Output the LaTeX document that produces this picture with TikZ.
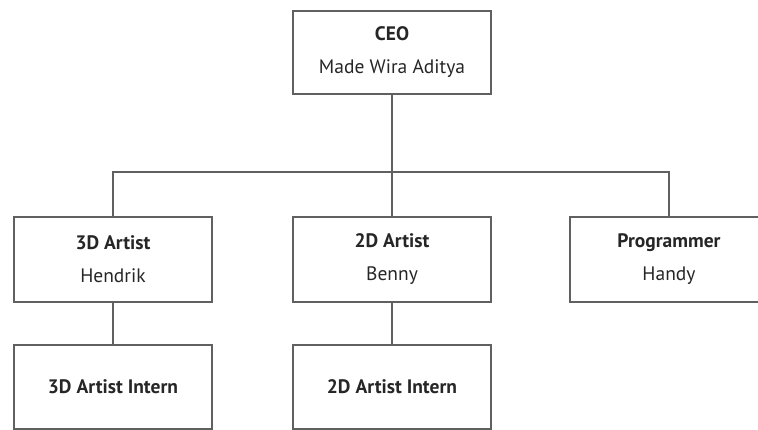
\documentclass[tikz,border=0pt]{standalone}
\usepackage{fontspec}
\setmainfont{PT Sans}
\begin{document}
\begin{tikzpicture}[x=1pt,y=-1pt,
  box/.style={draw=linegray, line width=1.4pt, rectangle, minimum width=198pt, align=center, inner sep=0pt, font=\fontsize{19.5}{22}\selectfont, text=black!85},
  link/.style={draw=linegray, line width=1.4pt}]
\definecolor{linegray}{HTML}{606060}
\useasboundingbox (0,0) rectangle (758,430);
\clip (0,0) rectangle (758,430);
\node[box, minimum height=83pt] (ceo) at (392,52.5) {\textbf{CEO}\\[11pt]Made Wira Aditya};
\node[box, minimum height=85pt] (a3d) at (113,259.5) {\textbf{3D Artist}\\[11pt]Hendrik};
\node[box, minimum height=85pt] (a2d) at (392,259.5) {\textbf{2D Artist}\\[11pt]Benny};
\node[box, minimum height=85pt] (prog) at (669,259.5) {\textbf{Programmer}\\[11pt]Handy};
\node[box, minimum height=84pt] (i3d) at (113,387) {\textbf{3D Artist Intern}};
\node[box, minimum height=84pt] (i2d) at (392,387) {\textbf{2D Artist Intern}};
\coordinate (bus) at (392,172);
\draw[link] (ceo.south) -- (bus);
\draw[link] (bus) -| (a3d.north);
\draw[link] (bus) -- (a2d.north);
\draw[link] (bus) -| (prog.north);
\draw[link] (a3d.south) -- (i3d.north);
\draw[link] (a2d.south) -- (i2d.north);
\end{tikzpicture}
\end{document}
